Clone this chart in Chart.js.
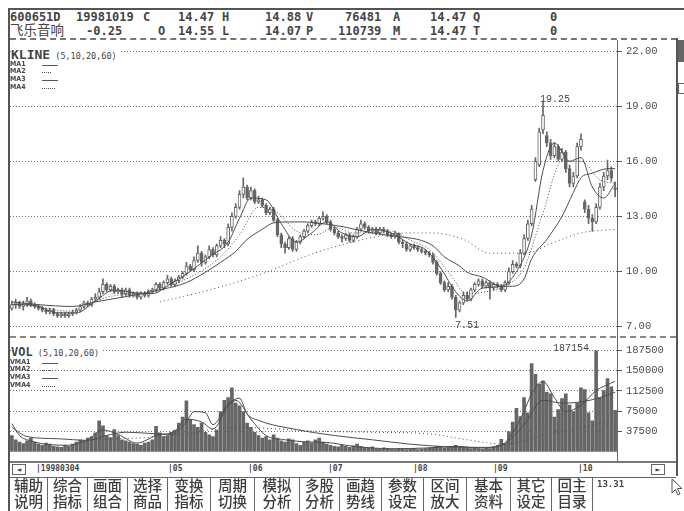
<!DOCTYPE html>
<html>
<head>
<meta charset="utf-8">
<script src="https://cdn.jsdelivr.net/npm/chart.js@4.4.1/dist/chart.umd.min.js"></script>
<style>
  body { margin: 0; width: 684px; height: 511px; overflow: hidden; position: relative; background: #fff; color: #444; }
  canvas { position: absolute; }
  .a { position: absolute; white-space: nowrap; pointer-events: none; }
  .hd { font: bold 12px "DejaVu Sans Mono", monospace; line-height: 12px; }
  .cjk { font-family: "Noto Sans CJK SC", sans-serif; }
  .lg { font: bold 7px "DejaVu Sans Condensed", "DejaVu Sans", sans-serif; line-height: 7px; }
  .ln { position: absolute; height: 0; }
  .btn { position: absolute; top: 477px; height: 34px; border-right: 1px solid #666; font: 500 14.5px "Noto Sans CJK SC", sans-serif; line-height: 16px; text-align: center; color: #3d3d3d; }
  .mon { font: bold 8px "DejaVu Sans Mono", monospace; }
</style>
</head>
<body>
<canvas id="priceChart" width="668" height="297" style="left:9px;top:40px"></canvas>
<canvas id="volChart" width="668" height="122" style="left:9px;top:340px"></canvas>

<!-- frame -->
<div class="a" style="left:8px;top:8px;width:676px;height:2px;background:#555"></div>
<div class="a" style="left:8px;top:8px;width:2px;height:503px;background:#555"></div>
<div class="a" style="left:10px;top:38px;width:667px;border-top:2px dashed #777"></div>
<div class="a" style="left:617px;top:40px;width:1px;height:421px;background:#666"></div>
<div class="a" style="left:676px;top:38px;width:2px;height:438px;background:#555"></div>
<div class="a" style="left:678px;top:40px;width:6px;height:22px;background:#666"></div>
<div class="a" style="left:678px;top:83px;width:5px;height:9px;border:1px solid #666"></div>
<div class="a" style="left:10px;top:336px;width:666px;border-top:2px dashed #888"></div>

<!-- header -->
<div class="a hd" style="left:10px;top:11px">600651D</div>
<div class="a hd" style="left:76px;top:11px">19981019</div>
<div class="a hd" style="left:143px;top:11px">C</div>
<div class="a hd" style="left:178px;top:11px">14.47</div>
<div class="a hd" style="left:222px;top:11px">H</div>
<div class="a hd" style="left:265px;top:11px">14.88</div>
<div class="a hd" style="left:306px;top:11px">V</div>
<div class="a hd" style="left:345px;top:11px">76481</div>
<div class="a hd" style="left:393px;top:11px">A</div>
<div class="a hd" style="left:430px;top:11px">14.47</div>
<div class="a hd" style="left:473px;top:11px">Q</div>
<div class="a hd" style="left:550px;top:11px">0</div>
<div class="a cjk" style="left:10px;top:22px;font-size:13.5px;line-height:15px">飞乐音响</div>
<div class="a hd" style="left:86px;top:25px">-0.25</div>
<div class="a hd" style="left:158px;top:25px">O</div>
<div class="a hd" style="left:178px;top:25px">14.55</div>
<div class="a hd" style="left:222px;top:25px">L</div>
<div class="a hd" style="left:265px;top:25px">14.07</div>
<div class="a hd" style="left:306px;top:25px">P</div>
<div class="a hd" style="left:338px;top:25px">110739</div>
<div class="a hd" style="left:393px;top:25px">M</div>
<div class="a hd" style="left:430px;top:25px">14.47</div>
<div class="a hd" style="left:473px;top:25px">T</div>
<div class="a hd" style="left:550px;top:25px">0</div>

<!-- price panel labels -->
<div class="a" style="left:11px;top:45px;background:#fff;padding-right:2px"><span style="font:bold 13px 'DejaVu Sans Mono',monospace">KLINE</span><span style="font:8.5px 'DejaVu Sans Mono',monospace"> (5,10,20,60)</span></div>
<div class="a lg" style="left:10px;top:61px">MA1</div><div class="ln" style="left:42px;top:65px;width:16px;border-top:1px solid #555"></div>
<div class="a lg" style="left:10px;top:68px">MA2</div><div class="ln" style="left:42px;top:72px;width:9px;border-top:1px dotted #555"></div>
<div class="a lg" style="left:10px;top:76px">MA3</div><div class="ln" style="left:42px;top:80px;width:16px;border-top:1px solid #555"></div>
<div class="a lg" style="left:10px;top:84px">MA4</div><div class="ln" style="left:42px;top:88px;width:13px;border-top:1px dotted #555"></div>
<div class="a" style="left:540px;top:94px;font:10px 'Liberation Mono',monospace">19.25</div>
<div class="a" style="left:455px;top:320px;font:10px 'Liberation Mono',monospace">7.51</div>

<!-- volume panel labels -->
<div class="a" style="left:11px;top:342px;background:#fff;padding-right:2px"><span style="font:bold 12px 'DejaVu Sans Mono',monospace">VOL</span><span style="font:8.5px 'DejaVu Sans Mono',monospace"> (5,10,20,60)</span></div>
<div class="a lg" style="left:10px;top:359px">VMA1</div><div class="ln" style="left:42px;top:363px;width:16px;border-top:1px solid #555"></div>
<div class="a lg" style="left:10px;top:366px">VMA2</div><div class="ln" style="left:42px;top:370px;width:9px;border-top:1px dotted #555"></div>
<div class="a lg" style="left:10px;top:374px">VMA3</div><div class="ln" style="left:42px;top:378px;width:16px;border-top:1px solid #555"></div>
<div class="a lg" style="left:10px;top:382px">VMA4</div><div class="ln" style="left:42px;top:386px;width:13px;border-top:1px dotted #555"></div>
<div class="a" style="left:553px;top:343px;font:10px 'Liberation Mono',monospace;background:#fff">187154</div>

<!-- date bar -->
<div class="a" style="left:10px;top:461px;width:666px;height:14px;background:#fff;border-top:2px solid #777;border-bottom:1px solid #666"></div>
<div class="a mon" style="left:12px;top:464px;width:12px;height:9px;border:1px solid #666;text-align:center;line-height:9px">&#9668;</div>
<div class="a mon" style="left:36px;top:464px">|19980304</div>
<div class="a mon" style="left:168px;top:464px">|05</div>
<div class="a mon" style="left:248px;top:464px">|06</div>
<div class="a mon" style="left:328px;top:464px">|07</div>
<div class="a mon" style="left:413px;top:464px">|08</div>
<div class="a mon" style="left:493px;top:464px">|09</div>
<div class="a mon" style="left:578px;top:464px">|10</div>
<div class="a mon" style="left:651px;top:464px;width:12px;height:9px;border:1px solid #666;text-align:center;line-height:9px">&#9658;</div>

<!-- buttons -->
<div class="btn" style="left:10px;width:37px">辅助<br>说明</div>
<div class="btn" style="left:48px;width:39px">综合<br>指标</div>
<div class="btn" style="left:88px;width:39px">画面<br>组合</div>
<div class="btn" style="left:128px;width:39px">选择<br>商品</div>
<div class="btn" style="left:168px;width:42px">变换<br>指标</div>
<div class="btn" style="left:211px;width:43px">周期<br>切换</div>
<div class="btn" style="left:255px;width:44px">模拟<br>分析</div>
<div class="btn" style="left:300px;width:39px">多股<br>分析</div>
<div class="btn" style="left:340px;width:41px">画趋<br>势线</div>
<div class="btn" style="left:382px;width:41px">参数<br>设定</div>
<div class="btn" style="left:424px;width:42px">区间<br>放大</div>
<div class="btn" style="left:467px;width:43px">基本<br>资料</div>
<div class="btn" style="left:511px;width:40px">其它<br>设定</div>
<div class="btn" style="left:552px;width:40px">回主<br>目录</div>
<div class="a" style="left:597px;top:479px;font:bold 9px 'DejaVu Sans Mono',monospace">13.31</div>
<svg class="a" style="left:671px;top:478px" width="13" height="19"><polygon points="1,1 1,15 4.5,11.5 7,17 9,16 6.5,10.5 11,10.5" fill="#fff" stroke="#555" stroke-width="1"/></svg>

<script>
// daily candles, 1998-03-04 .. 1998-10-19
const opens = [
  8.0, 8.2, 8.3, 8.1, 8.2, 8.4, 8.2, 8.1, 8.0, 7.9,
  7.8, 7.9, 7.7, 7.6, 7.7, 7.6, 7.7, 7.8, 7.9, 8.1,
  8.3, 8.2, 8.5, 8.6, 8.9, 9.3, 9.0, 9.2, 8.9, 9.0,
  8.8, 9.0, 8.7, 8.8, 8.6, 8.8, 8.7, 8.9, 9.0, 9.3,
  9.1, 9.4, 9.6, 9.3, 9.5, 9.7, 9.9, 10.3, 10.1, 10.6,
  11.0, 10.5, 10.8, 11.2, 10.9, 11.4, 11.7, 11.5, 12.4, 13.0,
  13.5, 14.2, 14.6, 14.0, 14.4, 13.8, 13.9, 13.6, 13.2, 13.4,
  12.8, 12.0, 11.5, 11.3, 11.8, 11.2, 11.6, 11.9, 12.2, 12.5,
  12.7, 12.6, 12.9, 13.0, 12.7, 12.3, 12.1, 11.9, 11.8, 12.0,
  11.7, 11.9, 12.3, 12.6, 12.4, 12.2, 12.3, 12.1, 12.3, 12.2,
  12.0, 11.9, 12.1, 11.6, 11.5, 11.2, 11.4, 11.3, 11.2, 11.1,
  11.0, 10.9, 10.5, 9.9, 9.4, 9.0, 9.2, 8.6, 7.9, 8.3,
  8.7, 8.5, 9.0, 9.3, 9.5, 9.2, 9.4, 9.1, 9.3, 9.2,
  9.0, 9.4, 10.0, 10.4, 10.3, 11.0, 11.8, 12.6, 15.0, 15.8,
  17.7, 17.4, 17.0, 16.3, 16.8, 16.1, 16.5, 15.6, 14.8, 15.2,
  16.8, 13.8, 13.4, 12.9, 12.7, 13.5, 14.6, 15.2, 15.5, 14.55
];
const closes = [
  8.2, 8.3, 8.1, 8.2, 8.4, 8.2, 8.1, 8.0, 7.9, 7.8,
  7.9, 7.7, 7.6, 7.7, 7.6, 7.7, 7.8, 7.9, 8.1, 8.3,
  8.2, 8.5, 8.6, 8.9, 9.3, 9.0, 9.2, 8.9, 9.0, 8.8,
  9.0, 8.7, 8.8, 8.6, 8.8, 8.7, 8.9, 9.0, 9.3, 9.1,
  9.4, 9.6, 9.3, 9.5, 9.7, 9.9, 10.3, 10.1, 10.6, 11.0,
  10.5, 10.8, 11.2, 10.9, 11.4, 11.7, 11.5, 12.4, 13.0, 13.5,
  14.2, 14.6, 14.0, 14.4, 13.8, 13.9, 13.6, 13.2, 13.4, 12.8,
  12.0, 11.5, 11.3, 11.8, 11.2, 11.6, 11.9, 12.2, 12.5, 12.7,
  12.6, 12.9, 13.0, 12.7, 12.3, 12.1, 11.9, 11.8, 12.0, 11.7,
  11.9, 12.3, 12.6, 12.4, 12.2, 12.3, 12.1, 12.3, 12.2, 12.0,
  11.9, 12.1, 11.6, 11.5, 11.2, 11.4, 11.3, 11.2, 11.1, 11.0,
  10.9, 10.5, 9.9, 9.4, 9.0, 9.2, 8.6, 7.9, 8.3, 8.7,
  8.5, 9.0, 9.3, 9.5, 9.2, 9.4, 9.1, 9.3, 9.2, 9.0,
  9.4, 10.0, 10.4, 10.3, 11.0, 11.8, 12.6, 13.4, 16.0, 17.6,
  18.5, 17.0, 16.3, 16.8, 16.1, 16.5, 15.6, 14.8, 15.2, 16.8,
  17.2, 13.4, 12.9, 12.7, 13.5, 14.6, 15.2, 15.5, 15.1, 14.47
];
const highs = [
  8.4, 8.5, 8.4, 8.4, 8.6, 8.5, 8.3, 8.2, 8.1, 8.0,
  8.0, 8.0, 7.8, 7.8, 7.8, 7.8, 7.9, 8.0, 8.2, 8.4,
  8.4, 8.6, 8.8, 9.1, 9.6, 9.4, 9.3, 9.3, 9.1, 9.1,
  9.1, 9.1, 8.9, 8.9, 8.9, 8.9, 9.0, 9.1, 9.4, 9.4,
  9.5, 9.8, 9.7, 9.6, 9.8, 10.0, 10.5, 10.4, 10.8, 11.4,
  11.1, 10.9, 11.4, 11.3, 11.5, 11.9, 11.8, 12.6, 13.2, 13.7,
  14.4, 15.1, 14.7, 14.6, 14.5, 14.1, 14.0, 13.7, 13.5, 13.5,
  12.9, 12.1, 11.6, 11.9, 11.9, 11.7, 12.0, 12.3, 12.6, 12.8,
  12.8, 13.0, 13.25, 13.1, 12.8, 12.4, 12.2, 12.0, 12.1, 12.1,
  12.0, 12.4, 12.8, 12.7, 12.5, 12.4, 12.4, 12.4, 12.4, 12.3,
  12.1, 12.2, 12.1, 11.7, 11.6, 11.5, 11.5, 11.4, 11.3, 11.2,
  11.1, 11.0, 10.6, 10.0, 9.5, 9.4, 9.3, 8.7, 8.4, 8.9,
  8.9, 9.1, 9.4, 9.6, 9.6, 9.5, 9.5, 9.4, 9.4, 9.3,
  9.5, 10.2, 10.6, 10.5, 11.2, 12.0, 12.8, 13.6, 16.2, 17.8,
  19.25, 17.6, 17.2, 17.0, 16.9, 16.7, 16.6, 15.8, 15.4, 17.0,
  17.5, 13.9, 13.6, 13.1, 13.7, 14.8, 15.4, 16.06, 15.7, 14.88
];
const lows = [
  7.9, 8.0, 8.0, 7.9, 8.1, 8.1, 8.0, 7.9, 7.8, 7.7,
  7.7, 7.6, 7.5, 7.5, 7.5, 7.5, 7.6, 7.7, 7.8, 8.0,
  8.1, 8.1, 8.4, 8.5, 8.8, 8.9, 8.9, 8.8, 8.8, 8.6,
  8.7, 8.6, 8.6, 8.5, 8.5, 8.6, 8.6, 8.8, 8.9, 9.0,
  9.0, 9.3, 9.2, 9.2, 9.4, 9.6, 9.8, 10.0, 10.0, 10.5,
  10.3, 10.4, 10.7, 10.8, 10.8, 11.3, 11.3, 11.4, 12.2, 12.9,
  13.4, 14.0, 13.9, 13.9, 13.7, 13.7, 13.5, 13.1, 13.1, 12.7,
  11.9, 11.3, 11.0, 11.2, 11.1, 11.1, 11.5, 11.8, 12.1, 12.4,
  12.5, 12.5, 12.8, 12.6, 12.2, 12.0, 11.8, 11.6, 11.7, 11.6,
  11.6, 11.8, 12.2, 12.3, 12.1, 12.1, 12.0, 12.0, 12.1, 11.9,
  11.8, 11.8, 11.5, 11.3, 11.1, 11.1, 11.2, 11.1, 11.0, 10.9,
  10.8, 10.4, 9.8, 9.3, 8.9, 8.9, 8.5, 7.51, 7.8, 8.2,
  8.4, 8.4, 8.9, 9.2, 9.1, 9.1, 8.5, 9.0, 9.1, 8.9,
  8.9, 9.3, 9.9, 10.2, 10.2, 10.9, 11.7, 12.5, 14.9, 15.7,
  17.5, 16.8, 16.1, 16.2, 16.0, 16.0, 15.4, 14.6, 14.6, 15.1,
  16.6, 13.2, 12.6, 12.2, 12.6, 13.4, 14.4, 15.0, 14.9, 14.07
];
const volumes = [
  30000, 22000, 18000, 15000, 20000, 25000, 18000, 14000, 12000, 16000,
  14000, 10000, 9000, 8000, 12000, 10000, 14000, 18000, 22000, 20000,
  25000, 28000, 35000, 57000, 48000, 30000, 26000, 41000, 30000, 22000,
  20000, 18000, 15000, 14000, 12000, 16000, 18000, 22000, 47000, 35000,
  28000, 30000, 36000, 40000, 53000, 64000, 94000, 60000, 50000, 45000,
  53000, 36000, 31000, 28000, 40000, 74000, 95000, 100000, 118000, 90000,
  85000, 74000, 53000, 45000, 36000, 30000, 25000, 28000, 22000, 31000,
  25000, 20000, 18000, 24000, 22000, 15000, 12000, 18000, 20000, 16000,
  22000, 25000, 18000, 14000, 12000, 10000, 9000, 12000, 10000, 8000,
  11000, 14000, 10000, 8000, 7000, 9000, 6000, 5000, 7000, 6000,
  5000, 4000, 6000, 5000, 4000, 5000, 6000, 4000, 5000, 6000,
  7000, 8000, 10000, 9000, 7000, 8000, 10000, 12000, 9000, 8000,
  7000, 6000, 8000, 6000, 5000, 7000, 6000, 9000, 12000, 23000,
  15000, 37000, 55000, 80000, 65000, 100000, 72000, 163000, 143000, 125000,
  131000, 110000, 107000, 64000, 78000, 98000, 107000, 86000, 74000, 90000,
  118000, 115000, 72000, 57000, 187154, 100000, 113000, 135000, 120000, 76481
];

// moving average lines as [day index, value]
const ma5 = [[0, 8.2], [2, 8.2], [7, 8.1], [12, 7.75], [17, 7.75], [22, 8.4], [27, 9.0], [32, 8.85], [37, 8.8], [42, 9.35], [47, 10.0], [52, 10.8], [57, 11.6], [60, 12.9], [63, 14.0], [67, 13.9], [71, 12.6], [75, 11.6], [79, 12.1], [83, 12.7], [87, 12.1], [91, 11.9], [95, 12.3], [100, 12.1], [105, 11.5], [109, 11.2], [113, 10.2], [117, 8.9], [120, 8.4], [124, 9.1], [129, 9.2], [133, 10.0], [137, 12.0], [140, 15.5], [143, 17.0], [147, 16.0], [150, 16.2], [153, 14.6], [156, 14.0], [159, 14.8]];
const ma10 = [[5, 8.2], [15, 7.85], [25, 8.6], [35, 8.9], [45, 9.5], [55, 10.8], [60, 12.0], [65, 13.5], [70, 13.2], [75, 12.2], [80, 12.0], [85, 12.4], [90, 12.1], [95, 12.1], [100, 12.2], [105, 11.7], [110, 11.2], [115, 10.0], [120, 8.8], [125, 8.9], [130, 9.2], [135, 10.2], [140, 13.2], [145, 16.0], [150, 16.0], [155, 15.0], [159, 14.8]];
const ma20 = [[0, 8.35], [7, 8.2], [16, 8.1], [22, 8.35], [29, 8.6], [40, 9.05], [46, 9.4], [51, 9.96], [55, 10.5], [59, 11.1], [62, 11.75], [66, 12.3], [69, 12.65], [73, 12.7], [77, 12.7], [80, 12.65], [87, 12.45], [95, 12.1], [104, 11.85], [107, 11.75], [111, 11.4], [114, 10.8], [118, 10.3], [120, 9.96], [124, 9.7], [129, 9.2], [132, 9.2], [135, 9.6], [137, 10.7], [141, 11.75], [145, 13.0], [148, 14.3], [150, 15.1], [153, 15.35], [157, 15.6], [159, 15.6]];
const ma60 = [[39, 8.35], [53, 9.05], [67, 9.96], [77, 10.8], [86, 11.4], [95, 11.85], [104, 12.1], [111, 12.1], [119, 11.75], [126, 11.0], [135, 11.0], [143, 11.6], [150, 12.1], [159, 12.3]];

const vma5 = [[0, 52000], [2, 30000], [5, 20000], [10, 13000], [15, 12000], [20, 22000], [24, 40000], [28, 32000], [33, 16000], [38, 30000], [43, 38000], [46, 60000], [50, 55000], [53, 42000], [57, 85000], [59, 95000], [63, 60000], [67, 30000], [72, 22000], [78, 18000], [83, 17000], [90, 10000], [100, 5500], [110, 7000], [117, 10000], [123, 7000], [129, 12000], [132, 35000], [135, 75000], [137, 107000], [140, 130000], [143, 100000], [146, 74000], [150, 86000], [154, 113000], [159, 130000]];
const vma20 = [[0, 45000], [4, 28000], [12, 24000], [20, 21000], [25, 30000], [30, 36000], [36, 34000], [42, 32000], [46, 55000], [48, 74000], [51, 72000], [53, 50000], [57, 88000], [60, 99000], [62, 70000], [65, 58000], [75, 41000], [85, 30000], [95, 22000], [105, 14000], [115, 9000], [125, 8000], [130, 15000], [135, 50000], [140, 95000], [145, 90000], [150, 92000], [155, 100000], [159, 110000]];
const vma60 = [[20, 22000], [40, 28000], [60, 45000], [80, 38000], [95, 36000], [110, 33000], [120, 22000], [130, 14000], [140, 30000], [159, 58000]];

const priceTicks = [7, 10, 13, 16, 19, 22];
const volTicks = [37500, 75000, 112500, 150000, 187500];

const gray = '#666';
const lineGray = '#4d4d4d';
const upDay = closes.map((c, i) => c >= opens[i]);

function maLine(points, dash) {
  return {
    type: 'line',
    data: points.map(([x, y]) => ({ x, y })),
    borderColor: lineGray,
    borderWidth: 1,
    borderDash: dash,
    pointRadius: 0,
    cubicInterpolationMode: 'monotone',
    order: 0,
  };
}

function yAxis(min, max, ticks, fmt) {
  return {
    position: 'right',
    min,
    max,
    afterFit: (scale) => { scale.width = 60; },
    afterBuildTicks: (scale) => { scale.ticks = ticks.map((v) => ({ value: v })); },
    ticks: {
      color: '#4d4d4d',
      padding: 4,
      font: { family: 'Liberation Mono', size: 10.5 },
      callback: fmt,
    },
    grid: { color: '#707070', lineWidth: 1, tickLength: 5, tickColor: '#555', tickBorderDash: [] },
    border: { display: false, dash: [1, 2] },
  };
}

const xAxis = { type: 'linear', display: false, min: -0.5, max: closes.length - 0.5, offset: false };

const baseOptions = {
  responsive: false,
  animation: false,
  devicePixelRatio: 1,
  plugins: { legend: { display: false }, tooltip: { enabled: false } },
};

// K-line panel
new Chart(document.getElementById('priceChart'), {
  type: 'bar',
  data: {
    datasets: [
      maLine(ma5, []),
      maLine(ma10, [1, 2]),
      maLine(ma20, []),
      maLine(ma60, [1, 3]),
      {
        data: opens.map((o, i) => ({ x: i, y: [o, closes[i]] })),
        backgroundColor: upDay.map((u) => (u ? '#fff' : gray)),
        borderColor: gray,
        borderWidth: 1,
        borderSkipped: false,
        barThickness: 3,
        minBarLength: 1,
        grouped: false,
        order: 1,
      },
      {
        data: lows.map((l, i) => ({ x: i, y: [l, highs[i]] })),
        backgroundColor: gray,
        barThickness: 1,
        grouped: false,
        order: 2,
      },
    ],
  },
  options: {
    ...baseOptions,
    layout: { padding: { left: 1, right: 0, top: 11, bottom: 9 } },
    scales: {
      x: xAxis,
      y: yAxis(7, 22, priceTicks, (v) => Number(v).toFixed(2)),
    },
  },
});

// volume panel
new Chart(document.getElementById('volChart'), {
  type: 'bar',
  data: {
    datasets: [
      maLine(vma5, []),
      maLine(vma20, []),
      maLine(vma60, [1, 3]),
      {
        data: volumes.map((v, i) => ({ x: i, y: v })),
        backgroundColor: gray,
        barThickness: 3,
        grouped: false,
        order: 1,
      },
    ],
  },
  options: {
    ...baseOptions,
    layout: { padding: { left: 1, right: 0, top: 8, bottom: 0 } },
    scales: {
      x: xAxis,
      y: yAxis(0, 187500, volTicks, (v) => String(v)),
    },
  },
});
</script>
</body>
</html>
